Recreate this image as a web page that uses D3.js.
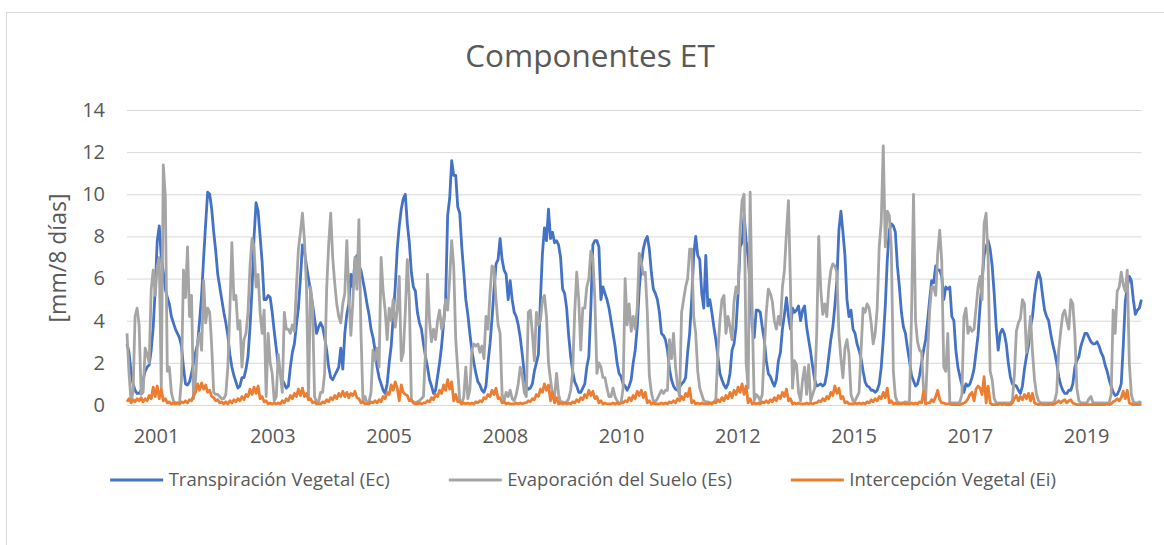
<!DOCTYPE html>
<html>
<head>
<meta charset="utf-8">
<script src="https://cdn.jsdelivr.net/npm/d3@7"></script>
<style>
    body { margin: 0; background: #fff; }
    svg text { font-family: "Open Sans", sans-serif; fill: #595959; }
</style>
</head>
<body>
<div id="chart"></div>
<script>
// one row per season, 24 samples each
const ecRows = [
    [2.9,2.5,1.6,1.0,0.7,0.55,0.55,0.7,1.2,1.6,1.8,1.9,2.6,3.7,5.5,7.8,8.5,7.0,6.3,5.5,5.1,4.8,4.2,3.9],
    [3.6,3.4,3.2,2.8,1.8,1.0,0.95,1.1,1.5,2.0,2.5,2.9,4.0,5.2,7.0,8.6,10.1,10.0,9.3,8.2,7.3,6.2,5.6,5.0],
    [4.4,3.9,3.3,2.4,1.8,1.4,1.1,0.8,0.9,1.3,1.3,1.7,2.3,3.7,5.5,8.0,9.6,9.2,8.0,6.8,5.0,5.0,5.2,5.1],
    [4.4,3.5,2.7,1.9,1.6,1.2,1.0,0.8,0.9,1.8,2.5,2.9,3.8,4.6,6.0,7.6,7.3,6.6,6.0,5.4,4.8,4.1,3.4,3.7],
    [3.9,3.7,3.2,2.6,1.8,1.3,1.2,1.4,1.6,1.8,2.7,1.7,3.4,4.3,4.8,6.2,5.6,6.8,7.1,6.6,6.4,5.9,5.4,4.8],
    [4.3,3.6,3.2,2.6,1.8,1.3,1.0,0.7,0.55,1.0,2.0,2.8,4.2,5.6,7.4,8.5,9.3,9.8,10.0,8.6,7.7,6.3,5.6,5.4],
    [4.4,3.9,3.6,2.9,2.3,1.8,1.2,0.9,0.55,0.7,1.35,2.0,2.8,3.9,5.0,9.0,9.8,11.6,10.9,10.9,9.4,9.1,7.5,6.3],
    [5.0,4.3,3.4,2.6,2.0,1.5,1.1,0.95,0.7,0.6,0.9,2.0,2.9,4.1,5.5,6.7,6.9,7.9,6.9,6.4,6.2,5.0,5.9,5.0],
    [4.4,4.2,3.8,3.2,2.4,1.5,0.9,0.75,0.8,1.0,1.6,2.0,2.4,5.0,7.2,8.4,7.8,9.3,7.9,8.2,7.7,7.8,7.6,7.0],
    [5.5,5.3,4.6,3.3,2.3,1.6,1.1,0.9,0.6,0.6,0.8,1.0,1.8,2.3,4.6,7.6,7.8,7.8,7.5,5.0,5.6,5.3,5.0,4.6],
    [4.0,3.4,2.8,2.0,1.5,1.35,1.0,0.9,0.7,0.9,1.2,2.0,2.6,3.7,5.5,6.6,7.4,7.8,8.0,7.4,6.3,5.5,5.3,5.0],
    [4.4,3.4,3.3,3.1,2.6,1.7,1.2,0.9,0.75,0.7,0.85,1.0,1.1,1.3,2.5,3.4,5.0,7.1,8.0,7.1,6.9,5.3,4.6,7.1],
    [4.7,5.0,4.4,3.7,3.1,2.3,1.5,1.2,0.95,0.8,1.0,1.5,2.6,2.9,3.7,5.3,7.5,7.7,9.0,7.8,7.0,5.6,3.7,3.2],
    [4.5,4.5,4.4,3.7,3.1,2.1,1.5,1.35,1.1,0.9,1.2,2.1,2.5,3.6,4.3,5.1,4.2,3.6,4.6,4.4,4.5,4.7,4.0,4.5],
    [4.7,3.7,3.1,2.5,1.8,1.2,0.9,0.95,1.0,0.9,1.0,1.5,2.3,3.1,3.7,4.7,5.9,8.3,9.2,8.2,7.1,5.0,4.2,4.5],
    [3.6,3.4,2.9,2.6,2.2,1.6,1.1,0.9,0.85,0.7,0.7,0.6,0.7,1.0,1.8,3.1,4.7,6.9,8.3,8.6,8.5,8.2,6.6,5.6],
    [4.4,3.7,3.4,2.7,2.1,1.4,1.15,0.9,1.0,1.4,2.0,2.6,3.1,4.0,5.0,5.9,5.8,6.6,6.4,6.4,6.1,5.0,5.6,5.5],
    [5.6,4.2,4.0,2.6,1.8,1.35,0.95,0.6,1.0,0.9,1.0,1.3,1.7,2.5,3.3,4.7,5.9,7.1,7.5,7.8,7.4,6.6,5.3,3.7],
    [2.6,3.4,3.6,3.4,2.9,2.0,1.35,1.0,0.95,0.9,0.7,0.55,0.9,1.7,2.3,2.8,3.7,4.2,5.2,5.9,6.3,6.0,5.2,4.5],
    [4.2,4.0,3.4,2.9,2.5,2.0,1.35,0.95,0.7,0.55,0.55,0.7,0.7,1.0,1.8,2.1,2.3,2.8,3.1,3.4,3.4,3.2,3.0,2.9],
    [2.9,3.0,2.8,2.5,2.3,1.9,1.6,1.2,0.9,0.6,0.45,0.5,0.7,1.0,2.8,4.9,5.6,6.1,5.9,5.0,4.3,4.5,4.6,5.0]
];

const esRows = [
    [3.4,1.5,0.2,0.6,4.2,4.6,3.8,0.5,0.6,2.7,2.4,2.0,5.5,6.4,5.2,6.6,7.0,0.8,11.4,9.9,1.6,1.8,0.6,0.2],
    [0.1,0.1,0.05,1.2,6.4,5.1,7.5,4.2,5.2,0.3,1.2,3.0,3.4,2.6,5.9,3.9,4.6,4.4,2.8,0.6,0.5,0.5,0.4,0.3],
    [0.3,0.5,1.8,4.5,7.7,5.0,5.2,3.6,4.0,1.8,3.1,3.4,4.4,6.6,7.9,7.5,5.6,6.2,4.4,3.4,4.5,0.4,3.4,2.0],
    [1.5,0.2,0.4,2.4,1.5,0.6,4.4,3.6,3.6,3.4,3.8,3.5,5.6,7.4,8.2,9.1,7.8,5.6,0.3,5.6,4.7,0.4,0.15,0.15],
    [0.6,0.6,1.5,5.5,7.6,9.1,7.0,5.8,4.8,4.2,3.9,4.8,5.3,7.8,5.2,3.3,4.9,7.0,5.5,8.8,3.5,0.2,0.4,0.1],
    [0.15,0.6,2.6,2.1,2.7,1.8,7.0,5.4,4.5,3.1,4.6,4.0,5.0,3.7,4.5,6.1,2.1,2.5,4.4,6.9,5.0,0.2,0.15,0.1],
    [0.15,0.2,0.3,0.4,2.5,6.2,4.0,3.0,3.6,3.1,4.0,4.5,3.6,3.9,5.0,4.5,6.0,7.8,6.6,3.1,1.7,0.15,0.05,0.4],
    [1.8,0.3,0.7,2.6,2.9,2.8,2.9,2.5,2.8,2.2,4.2,3.6,5.3,6.6,6.5,5.0,3.8,3.4,0.5,0.2,0.6,0.4,0.7,0.3],
    [0.2,0.5,1.0,1.8,1.4,0.6,0.4,4.4,4.5,3.4,2.1,4.4,3.8,4.0,5.0,5.2,4.2,2.0,1.2,0.5,0.4,1.5,0.5,0.1],
    [0.15,0.1,0.15,0.3,0.7,1.6,4.4,6.3,5.0,2.6,4.6,4.6,5.6,6.0,7.3,7.0,5.0,1.5,2.0,1.8,1.3,1.3,0.8,0.4],
    [0.4,0.8,0.4,0.2,0.1,0.1,0.8,6.0,3.8,4.8,3.5,4.2,3.6,4.6,7.2,6.8,6.2,6.3,4.4,1.4,0.6,0.2,0.15,0.3],
    [0.5,0.7,0.55,0.7,0.7,3.1,2.2,3.4,1.8,0.9,0.4,4.4,5.0,5.6,6.0,7.4,7.4,4.2,3.4,1.6,0.8,0.5,0.2,0.15],
    [0.15,0.1,0.1,0.1,0.3,2.5,4.0,5.0,5.2,3.4,4.2,3.7,3.1,4.9,5.6,5.3,8.3,9.7,10.0,2.0,0.8,10.1,4.5,0.2],
    [0.5,0.4,0.2,0.5,2.6,4.4,5.5,5.3,4.9,4.0,3.6,4.2,3.8,5.6,6.4,8.2,9.7,5.6,0.8,2.1,1.9,0.6,0.2,1.2],
    [1.8,0.5,1.9,0.2,0.5,0.8,3.4,8.0,5.5,4.3,4.8,4.2,5.6,6.4,6.7,6.6,6.3,3.4,2.2,1.3,2.7,3.1,2.4,0.5],
    [0.2,0.2,0.4,0.6,2.6,4.6,4.4,4.8,4.6,3.9,2.9,3.4,4.6,7.5,8.7,12.3,7.5,9.2,9.0,7.4,1.6,0.4,0.15,0.1],
    [0.1,0.1,0.15,0.1,0.2,4.2,10.0,4.0,3.0,2.6,2.5,0.7,0.2,2.5,4.5,5.6,5.6,5.2,7.2,8.3,6.8,1.8,1.6,3.4],
    [0.1,0.1,0.1,0.1,0.1,0.15,0.5,4.2,4.6,3.4,3.7,3.5,3.6,4.6,5.6,6.1,5.0,8.6,9.1,6.9,1.6,1.2,0.3,0.1],
    [0.1,0.1,0.1,0.1,0.1,0.1,0.1,0.2,1.4,3.5,3.9,4.1,5.0,4.8,2.5,3.2,4.2,2.5,1.2,0.5,0.2,0.1,0.1,0.1],
    [0.1,0.1,0.1,0.1,0.2,0.6,2.6,3.5,4.3,4.5,4.0,3.6,5.0,4.8,3.4,0.8,0.2,0.1,0.1,0.1,0.1,0.3,0.4,0.1],
    [0.1,0.1,0.1,0.1,0.1,0.1,0.1,0.1,0.5,4.5,3.4,5.4,5.6,6.3,5.7,5.4,6.4,2.0,0.5,0.15,0.1,0.1,0.15,0.1]
];

const eiRows = [
    [0.15,0.3,0.1,0.25,0.15,0.3,0.2,0.35,0.15,0.3,0.2,0.45,0.3,0.85,0.4,0.9,0.3,0.75,0.2,0.3,0.1,0.15,0.05,0.1],
    [0.05,0.1,0.05,0.15,0.1,0.2,0.1,0.25,0.2,0.45,0.6,1.0,0.7,1.05,0.75,0.95,0.6,0.7,0.4,0.35,0.2,0.25,0.1,0.15],
    [0.05,0.15,0.05,0.2,0.1,0.25,0.15,0.3,0.2,0.4,0.25,0.5,0.4,0.75,0.5,0.85,0.55,0.9,0.3,0.4,0.15,0.2,0.05,0.1],
    [0.05,0.1,0.05,0.1,0.05,0.2,0.1,0.3,0.2,0.45,0.3,0.55,0.4,0.75,0.45,0.8,0.4,0.55,0.25,0.3,0.1,0.15,0.05,0.05],
    [0.05,0.15,0.1,0.25,0.15,0.35,0.25,0.45,0.3,0.55,0.4,0.65,0.4,0.6,0.35,0.55,0.45,0.65,0.35,0.3,0.1,0.15,0.05,0.05],
    [0.05,0.15,0.1,0.2,0.1,0.25,0.15,0.4,0.3,0.6,0.5,0.95,0.7,1.1,0.8,0.2,0.95,0.6,0.5,0.45,0.2,0.25,0.1,0.05],
    [0.05,0.1,0.05,0.1,0.1,0.2,0.15,0.35,0.25,0.5,0.4,0.7,0.55,0.95,0.7,1.2,0.75,1.1,0.2,0.5,0.15,0.2,0.05,0.1],
    [0.05,0.1,0.05,0.1,0.05,0.15,0.1,0.2,0.15,0.35,0.3,0.5,0.4,0.7,0.5,0.8,0.3,0.35,0.1,0.15,0.05,0.1,0.05,0.05],
    [0.05,0.1,0.05,0.1,0.05,0.1,0.1,0.2,0.15,0.3,0.25,0.5,0.4,0.75,0.6,1.0,0.7,0.95,0.2,0.6,0.1,0.35,0.05,0.1],
    [0.05,0.1,0.05,0.1,0.05,0.15,0.1,0.25,0.15,0.35,0.25,0.5,0.35,0.7,0.45,0.65,0.3,0.4,0.1,0.2,0.05,0.1,0.05,0.05],
    [0.05,0.1,0.05,0.1,0.05,0.1,0.1,0.2,0.15,0.35,0.2,0.45,0.3,0.65,0.45,0.7,0.35,0.6,0.1,0.2,0.05,0.1,0.05,0.05],
    [0.05,0.1,0.05,0.1,0.05,0.15,0.1,0.2,0.1,0.3,0.2,0.4,0.25,0.55,0.4,0.8,0.1,0.2,0.05,0.1,0.05,0.1,0.05,0.05],
    [0.05,0.1,0.05,0.15,0.1,0.25,0.15,0.35,0.2,0.45,0.3,0.6,0.35,0.7,0.5,0.85,0.6,1.0,0.5,0.9,0.1,0.3,0.05,0.1],
    [0.05,0.1,0.05,0.15,0.1,0.2,0.1,0.25,0.15,0.35,0.2,0.45,0.3,0.6,0.4,0.75,0.2,0.3,0.05,0.1,0.05,0.1,0.05,0.05],
    [0.05,0.1,0.05,0.1,0.05,0.1,0.1,0.2,0.15,0.3,0.2,0.4,0.3,0.6,0.45,0.9,0.55,0.8,0.3,0.4,0.1,0.15,0.05,0.05],
    [0.05,0.1,0.05,0.1,0.05,0.1,0.05,0.15,0.1,0.25,0.15,0.3,0.2,0.4,0.3,0.6,0.35,0.8,0.1,0.2,0.05,0.1,0.05,0.05],
    [0.05,0.1,0.05,0.05,0.05,0.1,0.05,0.1,0.05,0.15,0.1,0.65,0.05,0.1,0.1,0.25,0.15,0.4,0.7,0.25,0.1,0.1,0.05,0.05],
    [0.05,0.02,0.02,0.02,0.02,0.02,0.05,0.1,0.15,0.3,0.5,0.6,0.2,0.75,0.9,0.8,0.5,1.35,0.1,0.9,0.1,0.02,0.02,0.02],
    [0.02,0.05,0.02,0.05,0.02,0.02,0.02,0.1,0.3,0.45,0.2,0.4,0.25,0.5,0.3,0.55,0.2,0.55,0.1,0.05,0.02,0.05,0.02,0.02],
    [0.02,0.02,0.05,0.02,0.05,0.12,0.2,0.1,0.2,0.25,0.1,0.2,0.25,0.1,0.05,0.02,0.02,0.02,0.02,0.02,0.02,0.02,0.02,0.02],
    [0.02,0.02,0.02,0.02,0.02,0.02,0.05,0.02,0.05,0.15,0.2,0.3,0.2,0.35,0.65,0.3,0.7,0.1,0.05,0.02,0.02,0.02,0.02,0.02]
];

const seriesNames = ['Transpiración Vegetal (Ec)', 'Evaporación del Suelo (Es)', 'Intercepción Vegetal (Ei)'];
const seriesColors = ['#4472C4', '#A5A5A5', '#ED7D31'];
const yTicks = [0, 2, 4, 6, 8, 10, 12, 14];
const xLabels = ['2001', '2003', '2005', '2008', '2010', '2012', '2015', '2017', '2019'];

const chartTitle = 'Componentes ET';
const yTitle = '[mm/8 días]';

// category labels: first one at sample 14.4, then every 57.65 samples
const labelFirst = 14.4;
const labelEvery = 57.65;

const width = 1164;
const height = 545;
const margin = { top: 110, right: 22.6, bottom: 140, left: 127 };
const drawWidth = width - margin.left - margin.right;
const drawHeight = height - margin.top - margin.bottom;

const series = [ecRows.flat(), esRows.flat(), eiRows.flat()];
const n = series[0].length;

const svg = d3.select('#chart').append('svg')
    .attr('width', width)
    .attr('height', height);

// chart frame (right and bottom edges fall outside the picture)
svg.append('rect')
    .attr('x', 6.5).attr('y', 12.5)
    .attr('width', 1200).attr('height', 600)
    .attr('fill', 'none')
    .attr('stroke', '#d9d9d9');

svg.append('text')
    .attr('x', 590).attr('y', 67)
    .attr('text-anchor', 'middle')
    .style('font-size', '31.5px')
    .text(chartTitle);

const g = svg.append('g')
    .attr('transform', `translate(${margin.left},${margin.top})`);

const x = d3.scaleLinear().domain([0, n - 1]).range([0, drawWidth]);
const y = d3.scaleLinear().domain([0, 14]).range([drawHeight, 0]);

// y axis + gridlines
const yAxis = g.append('g')
    .call(d3.axisLeft(y).tickValues(yTicks).tickSize(-drawWidth).tickPadding(22));
yAxis.select('.domain').remove();
yAxis.selectAll('line').attr('stroke', '#d9d9d9');
yAxis.selectAll('text')
    .attr('fill', '#595959')
    .style('font-size', '20px')
    .style('font-family', '"Open Sans", sans-serif');

// x axis (category labels only)
const xAxis = g.append('g')
    .attr('transform', `translate(0,${drawHeight})`)
    .call(d3.axisBottom(x)
        .tickValues(xLabels.map((d, i) => labelFirst + i * labelEvery))
        .tickFormat((d, i) => xLabels[i])
        .tickSize(0)
        .tickPadding(24));
xAxis.select('.domain').remove();
xAxis.selectAll('text')
    .attr('fill', '#595959')
    .style('font-size', '20px')
    .style('font-family', '"Open Sans", sans-serif');

svg.append('text')
    .attr('transform', 'translate(58,258) rotate(-90)')
    .attr('text-anchor', 'middle')
    .attr('dy', '0.35em')
    .style('font-size', '23px')
    .text(yTitle);

const line = d3.line()
    .x((d, i) => x(i))
    .y(d => y(d));

g.selectAll('.series')
    .data(series)
    .enter()
    .append('path')
    .attr('class', 'series')
    .attr('d', line)
    .attr('fill', 'none')
    .attr('stroke', (d, i) => seriesColors[i])
    .attr('stroke-width', 2.8)
    .attr('stroke-linejoin', 'round');

// legend, centred under the plot
const legend = svg.append('g');
let cursor = 0;
seriesNames.forEach((name, i) => {
    const item = legend.append('g').attr('transform', `translate(${cursor},0)`);
    item.append('line')
        .attr('x1', 0).attr('x2', 53)
        .attr('stroke', seriesColors[i])
        .attr('stroke-width', 3);
    const t = item.append('text')
        .attr('x', 58.5)
        .attr('dy', '0.35em')
        .style('font-size', '18.5px')
        .text(name);
    cursor += 58.5 + t.node().getComputedTextLength() + 59;
});
legend.attr('transform', `translate(${583 - (cursor - 59) / 2},480)`);
</script>
</body>
</html>
